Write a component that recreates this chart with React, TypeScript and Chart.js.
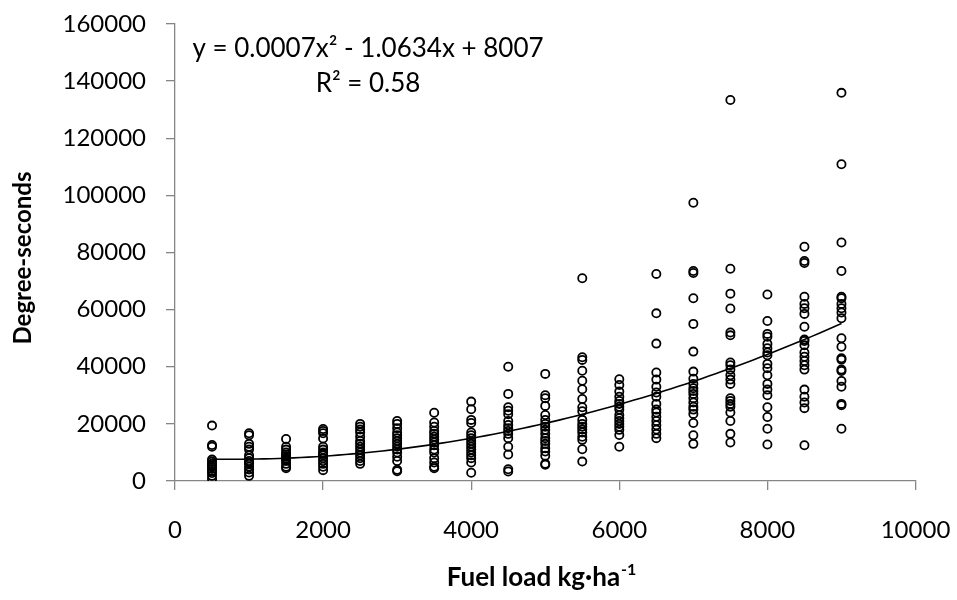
import React, { useEffect, useRef } from "react";
import { Chart, registerables } from "chart.js";

Chart.register(...registerables);

// Fuel load categories (kg·ha-1)
const fuelLoads = [500, 1000, 1500, 2000, 2500, 3000, 3500, 4000, 4500, 5000, 5500, 6000, 6500, 7000, 7500, 8000, 8500, 9000];

// Degree-seconds observed at each fuel load
const v500 = [19400, 12600, 12000, 7500, 6800, 6000, 5500, 5000, 4200, 3500, 2800, 1800, 700];
const v1000 = [16700, 16000, 13000, 12000, 11000, 9000, 8000, 7000, 6500, 6000, 5000, 4000, 3000, 1800];
const v1500 = [14700, 12000, 11000, 10000, 9300, 8700, 8000, 7500, 7000, 6000, 5000, 4500];
const v2000 = [18200, 17500, 16700, 14900, 12000, 11000, 10000, 9500, 9000, 8000, 7000, 6000, 5000, 3800];
const v2500 = [20000, 19000, 18000, 17000, 15500, 14000, 13000, 12000, 11000, 10000, 9000, 8000, 7000, 6000];
const v3000 = [21000, 20000, 18500, 17000, 16000, 15000, 14000, 13000, 12000, 11000, 10000, 8500, 7000, 3900, 3400];
const v3500 = [23900, 20500, 19000, 17500, 16500, 15500, 14500, 13500, 12500, 11000, 10000, 8000, 6500, 5000, 4500];
const v4000 = [27800, 25100, 21400, 20300, 17000, 16000, 15000, 14000, 13000, 12000, 11000, 10000, 9000, 8000, 6500, 2900];
const v4500 = [40000, 30500, 25800, 24600, 23400, 21000, 19600, 18500, 17500, 16500, 15000, 12000, 9300, 4100, 3300];
const v5000 = [37500, 30000, 29000, 26300, 23100, 21400, 20000, 19000, 17900, 16500, 15000, 14000, 13000, 11500, 10300, 8800, 6000, 5700];
const v5500 = [71000, 43300, 42400, 38600, 35100, 32100, 28700, 25800, 24400, 21400, 20000, 19000, 18000, 17000, 15500, 14400, 11100, 6800];
const v6000 = [35600, 33600, 31300, 29500, 28000, 27000, 26000, 25000, 23100, 22000, 21000, 20000, 19000, 17900, 16100, 12000];
const v6500 = [72500, 58700, 48100, 38000, 35500, 33000, 31000, 29500, 27000, 25000, 24000, 22500, 21000, 19500, 18000, 16500, 15000];
const v7000 = [97400, 73500, 72800, 64000, 55000, 45300, 38300, 35800, 34000, 32500, 31500, 30500, 29000, 27500, 26000, 25000, 23500, 20300, 16000, 13000];
const v7500 = [133400, 74300, 65600, 60400, 52000, 51000, 41500, 40500, 39000, 37000, 35500, 34000, 29000, 28000, 27000, 26000, 24000, 21000, 16500, 13500];
const v8000 = [65300, 56000, 51500, 50500, 48000, 46500, 45000, 44000, 41000, 39500, 37000, 34000, 32000, 30000, 25800, 22400, 18300, 12800];
const v8500 = [82000, 77000, 76300, 64500, 62000, 60500, 58500, 54000, 49500, 49000, 47500, 45000, 43500, 42000, 40500, 39000, 32000, 29500, 27500, 25500, 12500];
const v9000 = [135900, 110900, 83500, 73500, 64500, 64000, 62000, 60500, 59000, 57000, 50000, 47000, 43000, 42500, 39000, 38500, 35000, 33000, 27000, 26500, 18300];

const valuesByLoad = [v500, v1000, v1500, v2000, v2500, v3000, v3500, v4000, v4500, v5000, v5500, v6000, v6500, v7000, v7500, v8000, v8500, v9000];

// Fitted polynomial trendline shown on the chart: y = a x^2 + b x + c
const trendA = 0.0007;
const trendB = -1.0634;
const trendC = 8007;
const trendFrom = 500;
const trendTo = 9000;

const xTicks = [0, 2000, 4000, 6000, 8000, 10000];
const yTicks = [0, 20000, 40000, 60000, 80000, 100000, 120000, 140000, 160000];

const equationText = "y = 0.0007x\u00B2 - 1.0634x + 8007";
const r2Text = "R\u00B2 = 0.58";
const yTitle = "Degree-seconds";
const xTitleMain = "Fuel load kg\u00B7ha";
const xTitleSup = "-1";

const FONT = "Lato, 'Open Sans', sans-serif";
const AXIS_COLOR = "#868686";

export default function App() {
  const ref = useRef<HTMLCanvasElement | null>(null);

  useEffect(() => {
    if (!ref.current) return;
    const scatterPts: { x: number; y: number }[] = [];
    fuelLoads.forEach((fl, i) => {
      valuesByLoad[i].forEach((v) => scatterPts.push({ x: fl, y: v }));
    });
    const trendPts: { x: number; y: number }[] = [];
    for (let x = trendFrom; x <= trendTo; x += 100) {
      trendPts.push({ x, y: trendA * x * x + trendB * x + trendC });
    }

    const textPlugin = {
      id: "texts",
      afterDraw(chart: any) {
        const ctx = chart.ctx;
        ctx.save();
        ctx.fillStyle = "#000";
        // equation
        ctx.font = `26px ${FONT}`;
        ctx.textAlign = "center";
        ctx.textBaseline = "middle";
        ctx.fillText(equationText, 368, 49);
        ctx.fillText(r2Text, 368, 84);
        // y title
        ctx.save();
        ctx.translate(23, 258);
        ctx.rotate(-Math.PI / 2);
        ctx.font = `bold 24px ${FONT}`;
        ctx.fillText(yTitle, 0, 0);
        ctx.restore();
        // x title with superscript
        ctx.font = `bold 26px ${FONT}`;
        const wMain = ctx.measureText(xTitleMain).width;
        ctx.font = `bold 16px ${FONT}`;
        const wSup = ctx.measureText(xTitleSup).width;
        const total = wMain + wSup;
        const startX = 541 - total / 2;
        ctx.textAlign = "left";
        ctx.textBaseline = "alphabetic";
        ctx.font = `bold 26px ${FONT}`;
        ctx.fillText(xTitleMain, startX, 586);
        ctx.font = `bold 16px ${FONT}`;
        ctx.fillText(xTitleSup, startX + wMain + 1, 575);
        ctx.restore();
      },
    };

    const chart = new Chart(ref.current, {
      type: "scatter",
      data: {
        datasets: [
          {
            type: "line" as any,
            data: trendPts,
            borderColor: "#000",
            borderWidth: 1.6,
            pointRadius: 0,
            fill: false,
            tension: 0,
            order: 2,
          } as any,
          {
            data: scatterPts,
            pointStyle: "circle",
            pointRadius: 4.1,
            pointBorderWidth: 1.8,
            pointBorderColor: "#000",
            pointBackgroundColor: "rgba(0,0,0,0)",
            borderColor: "#000",
            backgroundColor: "rgba(0,0,0,0)",
            order: 1,
          } as any,
        ],
      },
      options: {
        animation: false,
        responsive: false,
        events: [],
        layout: { padding: { left: 0, top: 24, right: 41.5, bottom: 0 } },
        plugins: { legend: { display: false }, tooltip: { enabled: false }, title: { display: false } },
        scales: {
          x: {
            type: "linear",
            min: 0,
            max: 10000,
            afterFit: (s: any) => {
              s.height = 119;
              s.paddingLeft = 0; s.paddingRight = 0; s.paddingTop = 0; s.paddingBottom = 0;
            },
            afterBuildTicks: (s: any) => { s.ticks = xTicks.map((v) => ({ value: v })); },
            ticks: { color: "#000", font: { family: FONT, size: 24 }, padding: 26, maxRotation: 0, callback: (v: any) => String(v) },
            grid: { drawOnChartArea: false, drawTicks: true, tickLength: 9, color: AXIS_COLOR, lineWidth: 1.3 },
            border: { color: AXIS_COLOR, width: 1.3 },
          },
          y: {
            type: "linear",
            min: 0,
            max: 160000,
            afterFit: (s: any) => {
              s.width = 175;
              s.paddingLeft = 0; s.paddingRight = 0; s.paddingTop = 0; s.paddingBottom = 0;
            },
            afterBuildTicks: (s: any) => { s.ticks = yTicks.map((v) => ({ value: v })); },
            ticks: { color: "#000", font: { family: FONT, size: 24 }, padding: 20, callback: (v: any) => String(v) },
            grid: { drawOnChartArea: false, drawTicks: true, tickLength: 9, color: AXIS_COLOR, lineWidth: 1.3 },
            border: { color: AXIS_COLOR, width: 1.3 },
          },
        },
      } as any,
      plugins: [textPlugin],
    });
    return () => chart.destroy();
  }, []);

  return (
    <div style={{ position: "absolute", left: 0, top: 0, width: 957, height: 600, background: "#fff" }}>
      <canvas ref={ref} width={957} height={600} />
    </div>
  );
}
